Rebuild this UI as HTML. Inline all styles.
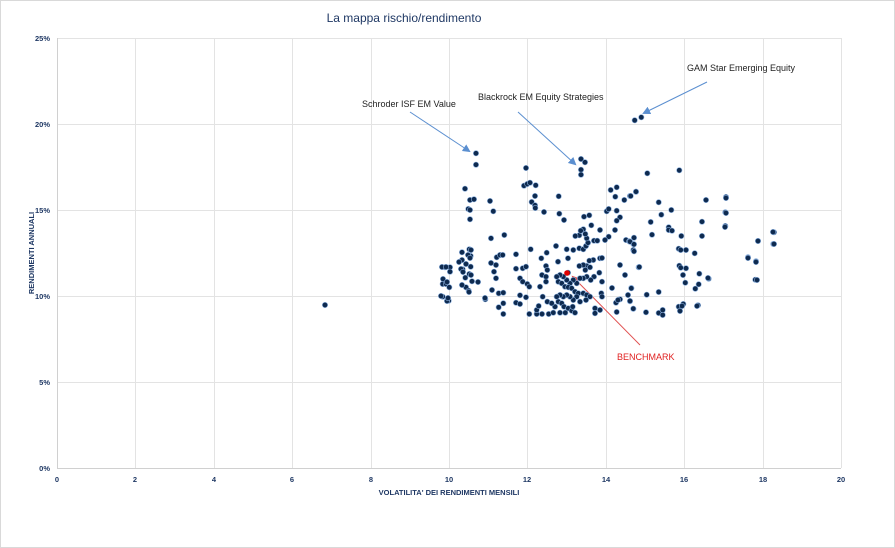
<!DOCTYPE html>
<html><head><meta charset="utf-8"><style>
body{margin:0;background:#fff}
svg{display:block;font-family:"Liberation Sans",sans-serif}
</style></head><body>
<svg id="s" width="895" height="548" viewBox="0 0 895 548">
<defs>
<marker id="ab" markerWidth="8" markerHeight="8" refX="6" refY="4" orient="auto" markerUnits="userSpaceOnUse"><path d="M0,0 L8,4 L0,8 z" fill="#5b8fd0"/></marker>
<marker id="ar" markerWidth="8" markerHeight="8" refX="6" refY="4" orient="auto" markerUnits="userSpaceOnUse"><path d="M0,0 L8,4 L0,8 z" fill="#e05050"/></marker>
</defs>
<rect x="0.5" y="0.5" width="894" height="547" fill="#fff" stroke="#d9d9d9"/>
<text x="404" y="22" text-anchor="middle" font-size="12" fill="#1f3864">La mappa rischio/rendimento</text>
<g stroke="#e3e3e3" stroke-width="1">
<line x1="57" y1="38.5" x2="841" y2="38.5"/><line x1="57" y1="124.5" x2="841" y2="124.5"/><line x1="57" y1="210.5" x2="841" y2="210.5"/><line x1="57" y1="296.5" x2="841" y2="296.5"/><line x1="57" y1="382.5" x2="841" y2="382.5"/>
<line x1="135.5" y1="38" x2="135.5" y2="468"/><line x1="214.5" y1="38" x2="214.5" y2="468"/><line x1="292.5" y1="38" x2="292.5" y2="468"/><line x1="371.5" y1="38" x2="371.5" y2="468"/><line x1="449.5" y1="38" x2="449.5" y2="468"/><line x1="527.5" y1="38" x2="527.5" y2="468"/><line x1="606.5" y1="38" x2="606.5" y2="468"/><line x1="684.5" y1="38" x2="684.5" y2="468"/><line x1="763.5" y1="38" x2="763.5" y2="468"/><line x1="841.5" y1="38" x2="841.5" y2="468"/>
</g>
<line x1="57.5" y1="38" x2="57.5" y2="468" stroke="#d0d0d0"/>
<line x1="57" y1="468.5" x2="841" y2="468.5" stroke="#d0d0d0"/>
<g font-size="7.5" font-weight="bold" fill="#1f3864" text-anchor="end">
<text x="50" y="41">25%</text><text x="50" y="127">20%</text><text x="50" y="213">15%</text><text x="50" y="299">10%</text><text x="50" y="385">5%</text><text x="50" y="471">0%</text>
</g>
<g font-size="7.5" font-weight="bold" fill="#1f3864" text-anchor="middle">
<text x="57" y="482">0</text><text x="135" y="482">2</text><text x="214" y="482">4</text><text x="292" y="482">6</text><text x="371" y="482">8</text><text x="449" y="482">10</text><text x="527" y="482">12</text><text x="606" y="482">14</text><text x="684" y="482">16</text><text x="763" y="482">18</text><text x="841" y="482">20</text>
<text x="449" y="495">VOLATILITA' DEI RENDIMENTI MENSILI</text>
<text transform="translate(34,253) rotate(-90)">RENDIMENTI ANNUALI</text>
</g>
<g font-size="9" fill="#222">
<text x="362" y="107">Schroder ISF EM Value</text>
<text x="478" y="100">Blackrock EM Equity Strategies</text>
<text x="687" y="71">GAM Star Emerging Equity</text>
</g>
<text x="617" y="360" font-size="9" fill="#e02020">BENCHMARK</text>
<g stroke="#5b8fd0" stroke-width="1">
<line x1="410" y1="112" x2="469" y2="151" marker-end="url(#ab)"/>
<line x1="518" y1="112" x2="575" y2="164" marker-end="url(#ab)"/>
<line x1="707" y1="82" x2="644" y2="113" marker-end="url(#ab)"/>
</g>
<line x1="640" y1="345" x2="573" y2="277" stroke="#e05050" stroke-width="1" marker-end="url(#ar)"/>
<g id="pts" fill="#0e2a4f" stroke="#8fb3e0" stroke-width="0.6"></g>
<circle cx="567" cy="273" r="2.8" fill="#e00000"/>
</svg>
<script>
var g=document.getElementById('pts');
function add(x,y){var c=document.createElementNS('http://www.w3.org/2000/svg','circle');c.setAttribute('cx',x.toFixed(1));c.setAttribute('cy',y.toFixed(1));c.setAttribute('r','2.7');g.appendChild(c);}
var z1=[108,40,108,74,75,146,90,180,102,178,85,207,90,210,90,238,150,183,160,214,258,84,252,137,262,132,270,128,287,136,285,168,275,186,285,196,286,204,312,216,356,169,358,221,372,240,423,57,435,67,423,89,423,104,153,295,193,285,66,337,88,328,92,348,66,360,92,380,68,388,88,402,76,413,96,424,78,442,86,452,
15,382,30,382,30,395,8,432,18,432,28,442,8,470,26,482,136,478,170,352,180,345,188,345,168,375,162,395,168,415,176,460,190,458,190,490,176,502,190,522,228,343,228,386,248,385,258,380,240,415,248,425,262,432,268,440,240,466,258,472,228,488,240,492,268,522,290,522,290,510,296,498,306,522,326,522,322,485,308,470,300,440,306,405,318,378,322,390,318,410,318,425,304,355,320,338,272,328,348,318,354,365,380,328,384,355,400,330,418,325,430,328,438,318,444,308,462,302,472,302,440,295,436,282,418,286,406,288,430,268,422,272,454,256,480,270,432,230,448,226,506,290,540,232,530,242,530,212,500,214,506,207,512,150,530,142,526,170,553,180,570,168,588,155,558,300,568,304,580,312,580,330,596,382,574,444,540,478,528,488,570,484,580,506,530,516,484,460,486,470,478,398,486,425,480,355,460,360,448,362,440,378,430,375,418,378,436,390,450,382,462,410,452,420,440,410,430,415,420,415,410,430,400,420,390,430,380,420,370,410,360,405,350,410,355,425,365,430,375,440,385,442,395,445,405,455,415,460,430,460,440,465,450,470,438,480,420,485,410,470,400,480,390,470,380,465,370,470,360,465,350,470,355,485,365,490,372,500,385,505,395,512,405,518,398,500,376,518,360,518,340,518,345,500,335,490,465,505,465,520,480,510,384,398];
for(var i=0;i<z1.length;i+=2)add(440+z1[i]/3,140+z1[i+1]/3);
var z2=[14,31,34,22,52,190,148,181,2,258,18,245,86,277,124,300,94,314,62,336,116,352,116,360,126,362,66,374,154,378,12,383,0,395,12,403,12,424,146,416,152,420,168,420,194,430,216,335,216,378,288,261,286,307,286,348,432,367,384,393,430,402,354,442,378,454,376,509,28,471,148,467,152,473,168,475,208,491,236,506,166,518,206,523,196,536,4,535,50,554,86,546,0,573,10,596,48,607,86,609,98,600,98,615,146,590,160,582,204,586];
for(var i=0;i<z2.length;i+=2)add(630+z2[i]/3,110+z2[i+1]/3);
var o=[325,305,442,267,446,267,443,279,447,282,441,296,447,301,448,298,459,262,461,269,463,272,466,264,462,285,469,292,471,275,468,255,471,250,470,258,478,282,485,298,491,263,492,290,748,258,756,262,757,280,758,241,773,232,774,244,706,200,726,198,726,213,725,227,708,278,697,306,683,275,682,306,680,311,620,265,625,275,612,288,618,300,628,295,602,258,605,240,615,230];
for(var i=0;i<o.length;i+=2)add(o[i],o[i+1]);
</script>
</body></html>
